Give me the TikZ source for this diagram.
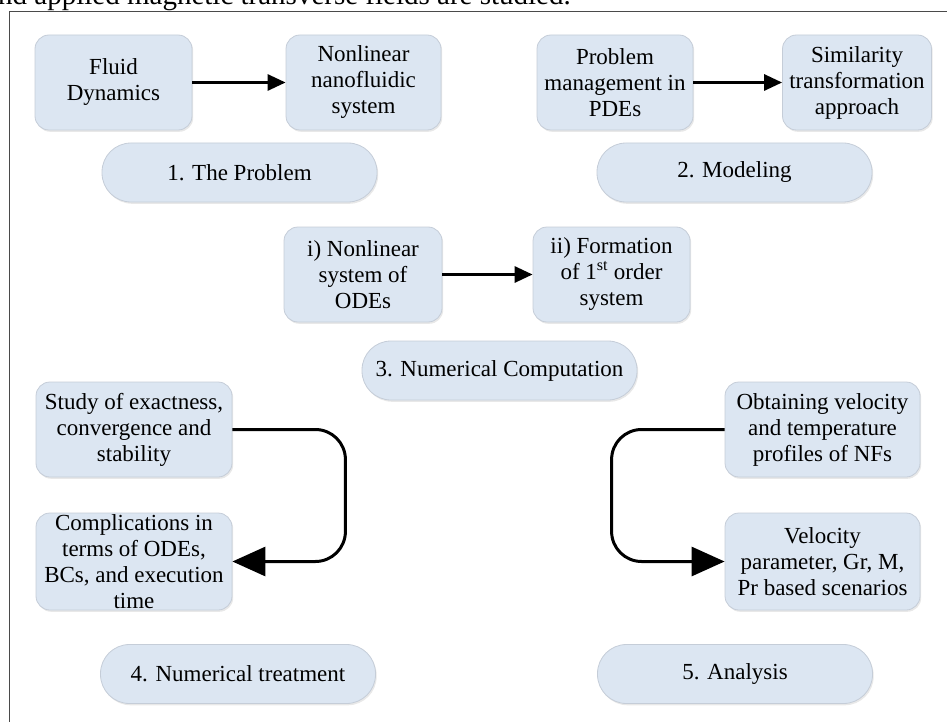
\documentclass[tikz,border=0pt]{standalone}
\usepackage{fontspec}
\setmainfont{Liberation Serif}
\usetikzlibrary{arrows.meta,shadows}
\definecolor{boxfill}{HTML}{DCE6F2}
\definecolor{boxline}{HTML}{C5CDD8}
\definecolor{framecol}{HTML}{4A4A4A}
\newcommand\diagfont{\fontsize{23}{26}\selectfont}
\tikzset{
  box/.style={draw=boxline, line width=0.8pt, fill=boxfill, rounded corners=14pt,
    align=center, inner sep=0pt, font=\diagfont,
    drop shadow={opacity=0.18, shadow xshift=1.2pt, shadow yshift=-1.8pt}},
  pill/.style={box, rounded corners=29pt, minimum width=275pt, minimum height=59pt},
  arr/.style={line width=3pt, -{Triangle[length=18pt,width=16pt]}},
  bigarr/.style={line width=3pt, rounded corners=30pt, -{Triangle[length=33pt,width=29pt]}}
}
\begin{document}
\begin{tikzpicture}[x=1pt,y=-1pt]
\useasboundingbox (0,0) rectangle (947,722);
% caption fragment and frame
\node[anchor=base west, inner sep=0pt, font=\fontsize{29}{30}\selectfont] (cap) at (-2,5) {nd applied magnetic transverse fields are studied.};
\draw[framecol, line width=1.5pt] (9.5,730) -- (9.5,11.5) -- (960,11.5);
% row 1
\node[box, minimum width=157pt, minimum height=95pt] (fluid) at (113.5,82.5) {Fluid\\Dynamics};
\node[box, minimum width=155pt, minimum height=95pt] (nano) at (363.5,82.5) {Nonlinear\\nanofluidic\\system};
\node[box, minimum width=156pt, minimum height=95pt] (pde) at (615,82.5) {Problem\\management in\\PDEs};
\node[box, minimum width=149pt, minimum height=95pt] (sim) at (857,82.5) {Similarity\\transformation\\approach};
\node[pill] (prob) at (239.5,172.5) {1. The Problem};
\node[pill] (model) at (734.5,172.5) {2. Modeling};
% row 3
\node[box, minimum width=158pt, minimum height=95pt] (ode) at (363,274.5) {i) Nonlinear\\system of\\ODEs};
\node[box, minimum width=157pt, minimum height=95pt] (form) at (611.5,274.5) {ii) Formation\\of 1\textsuperscript{st} order\\system};
\node[pill] (numc) at (499.5,370.5) {3. Numerical Computation};
% row 4
\node[box, minimum width=196pt, minimum height=95pt] (study) at (134,429.5) {Study of exactness,\\convergence and\\stability};
\node[box, minimum width=196pt, minimum height=97pt] (comp) at (134,561.5) {Complications in\\terms of ODEs,\\BCs, and execution\\time};
\node[box, minimum width=195pt, minimum height=95pt] (obt) at (822.5,429.5) {Obtaining velocity\\and temperature\\profiles of NFs};
\node[box, minimum width=195pt, minimum height=97pt] (vel) at (822.5,561.5) {Velocity\\parameter, Gr, M,\\Pr based scenarios};
\node[pill] (numt) at (238,674) {4. Numerical treatment};
\node[pill] (anal) at (735,674) {5. Analysis};
% connectors
\draw[arr] (fluid) -- (nano);
\draw[arr] (pde) -- (sim);
\draw[arr] (ode) -- (form);
\draw[bigarr] (study.east) -- ++(113,0) |- (comp.east);
\draw[bigarr] (obt.west) -- ++(-113,0) |- (vel.west);
\end{tikzpicture}
\end{document}
